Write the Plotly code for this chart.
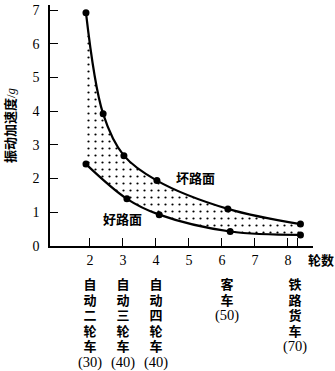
import plotly.graph_objects as go

# Vibration acceleration (in g) against number of wheels
bad_x = [1.88, 2.40, 3.03, 4.03, 6.18, 8.38]
bad_y = [6.92, 3.92, 2.68, 1.94, 1.10, 0.65]
good_x = [1.88, 3.12, 4.10, 6.25, 8.38]
good_y = [2.43, 1.40, 0.93, 0.43, 0.33]

x_ticks = [2, 3, 4, 5, 6, 7, 8]
x_extra_tick = [8.3]
y_ticks = [0, 1, 2, 3, 4, 5, 6, 7]

# Vehicle types under the axis: (wheel count, name, speed)
vehicles = [
    (2, "自动二轮车", "30"),
    (3, "自动三轮车", "40"),
    (4, "自动四轮车", "40"),
    (6.15, "客车", "50"),
    (8.2, "铁路货车", "70"),
]

serif = "Liberation Serif, Noto Sans CJK SC"
cjk = "Noto Sans CJK SC"

fig = go.Figure()

fig.add_trace(go.Scatter(
    x=good_x, y=good_y, mode="lines+markers",
    line=dict(color="black", width=2.2, shape="spline", smoothing=1.0),
    marker=dict(color="black", size=7),
    showlegend=False, hoverinfo="skip",
))
fig.add_trace(go.Scatter(
    x=bad_x, y=bad_y, mode="lines+markers",
    line=dict(color="black", width=2.2, shape="spline", smoothing=1.0),
    marker=dict(color="black", size=7),
    fill="tonexty", fillcolor="rgba(0,0,0,0)",
    fillpattern=dict(shape=".", size=7, solidity=0.08,
                     fgcolor="black", bgcolor="white", fillmode="replace"),
    showlegend=False, hoverinfo="skip",
))

annotations = [
    dict(x=4.55, y=2.02, xref="x", yref="y", text="<b>坏路面</b>",
         showarrow=False, xanchor="left", yanchor="middle",
         font=dict(family=cjk, size=13, color="black")),
    dict(x=3.0, y=0.82, xref="x", yref="y", text="<b>好路面</b>",
         showarrow=False, xanchor="center", yanchor="middle",
         font=dict(family=cjk, size=13, color="black")),
    dict(x=1.03, y=-0.058, xref="paper", yref="paper", text="<b>轮数</b>",
         showarrow=False, xanchor="center", yanchor="middle",
         font=dict(family=cjk, size=13, color="black")),
    dict(x=-0.15, y=0.5, xref="paper", yref="paper",
         text="<b>振动加速度</b>/<i>g</i>", textangle=-90,
         showarrow=False, xanchor="center", yanchor="middle",
         font=dict(family=serif, size=13, color="black")),
]
for wx, name, speed in vehicles:
    chars = "<br>".join(name)
    annotations.append(dict(
        x=wx, y=-0.122, xref="x", yref="paper",
        text=(f"<b><span style='font-size:13px'>{chars}</span></b>"
              f"<br><span style='font-size:14.5px'>({speed})</span>"),
        showarrow=False, xanchor="center", yanchor="top",
        font=dict(family=serif, size=12, color="black"),
    ))

fig.update_layout(
    width=335, height=371,
    margin=dict(l=50, r=22, t=3, b=125),
    paper_bgcolor="white", plot_bgcolor="white",
    showlegend=False,
    annotations=annotations,
    xaxis=dict(
        range=[0.79, 8.76], tickvals=x_ticks,
        ticks="inside", ticklen=8, tickwidth=1.2, tickcolor="black",
        minor=dict(tickvals=x_extra_tick, ticks="inside", ticklen=8,
                   tickwidth=1.2, tickcolor="black", showgrid=False),
        showline=True, linecolor="black", linewidth=1.5,
        showgrid=False, zeroline=False,
        tickfont=dict(family=serif, size=14, color="black"),
    ),
    yaxis=dict(
        range=[0, 7.15], tickvals=y_ticks,
        ticks="inside", ticklen=8, tickwidth=1.2, tickcolor="black",
        ticklabelstandoff=6,
        showline=True, linecolor="black", linewidth=1.5,
        showgrid=False, zeroline=False,
        tickfont=dict(family=serif, size=14, color="black"),
    ),
)

fig.write_html("out.html")
